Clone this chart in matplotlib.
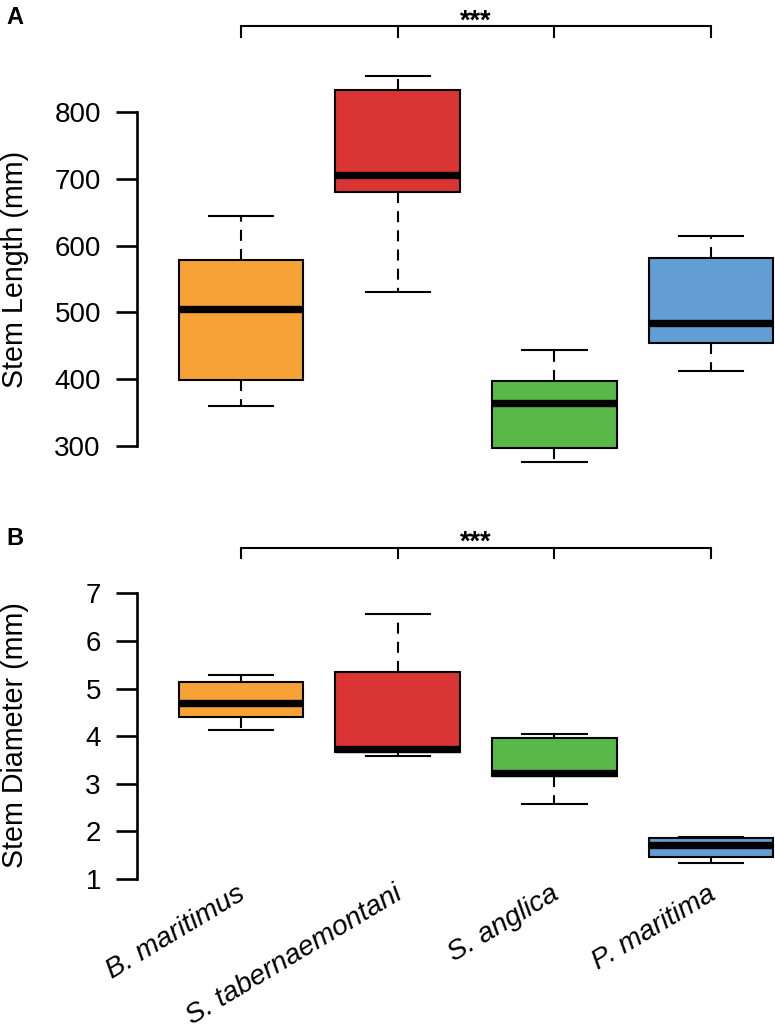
import numpy as np
import matplotlib
matplotlib.use('Agg')
import matplotlib.pyplot as plt
from matplotlib.transforms import blended_transform_factory

# ---------------- data ----------------
species = ["B. maritimus", "S. tabernaemontani", "S. anglica", "P. maritima"]
colors = ["#F7A236", "#DA3435", "#58B948", "#629ED4"]

length_low = [360, 531, 276, 412]
length_q1 = [398, 681, 296, 454]
length_med = [505, 706, 364, 484]
length_q3 = [578, 834, 397, 581]
length_high = [645, 854, 443, 615]
length_ticks = [300, 400, 500, 600, 700, 800]

diam_low = [4.13, 3.58, 2.57, 1.33]
diam_q1 = [4.40, 3.66, 3.16, 1.47]
diam_med = [4.69, 3.73, 3.23, 1.72]
diam_q3 = [5.13, 5.34, 3.97, 1.87]
diam_high = [5.29, 6.57, 4.04, 1.89]
diam_ticks = [1, 2, 3, 4, 5, 6, 7]

signif = "***"

# ---------------- layout ----------------
FONT = ["Liberation Sans", "DejaVu Sans"]
W, H = 775, 1027
fig = plt.figure(figsize=(W / 100, H / 100), dpi=100)


def fy(px):
    return 1 - px / H


def make_axes(top_px, bottom_px):
    ax = fig.add_axes([137 / W, fy(bottom_px), (W - 137) / W,
                       (bottom_px - top_px) / H])
    ax.patch.set_alpha(0)
    return ax


def stats(low, q1, med, q3, high):
    return [dict(whislo=a, q1=b, med=c, q3=d, whishi=e, fliers=[])
            for a, b, c, d, e in zip(low, q1, med, q3, high)]


def draw_panel(ax, st, ticks, ylim, bracket_px, star_px):
    pos = np.arange(1, len(st) + 1)
    bp = ax.bxp(st, positions=pos, widths=0.795, capwidths=0.41,
                patch_artist=True, showfliers=False,
                boxprops=dict(edgecolor="black", linewidth=1.5),
                medianprops=dict(color="black", linewidth=5.3,
                                 solid_capstyle="butt"),
                whiskerprops=dict(color="black", linewidth=1.5,
                                  linestyle=(0, (5.3, 3.9))),
                capprops=dict(color="black", linewidth=1.5))
    for patch, c in zip(bp["boxes"], colors):
        patch.set_facecolor(c)
    ax.set_xlim(1 + (137 - 241) / 156.7, 1 + (W - 241) / 156.7)
    ax.set_ylim(*ylim)
    for s in ["top", "right", "bottom"]:
        ax.spines[s].set_visible(False)
    ax.spines["left"].set_bounds(ticks[0], ticks[-1])
    ax.spines["left"].set_linewidth(1.9)
    ax.set_xticks([])
    ax.set_yticks(ticks)
    ax.set_yticklabels([str(t) for t in ticks])
    ax.tick_params(axis="y", direction="out", length=15, width=1.9,
                   pad=11.0, labelsize=20)
    for lab in ax.get_yticklabels():
        lab.set_family(FONT)
    # significance bracket
    tr = blended_transform_factory(ax.transData, fig.transFigure)
    top, bot = bracket_px
    ax.plot([pos[0], pos[-1]], [fy(top), fy(top)], color="black", lw=1.5,
            transform=tr, clip_on=False, solid_capstyle="butt")
    for p in pos:
        ax.plot([p, p], [fy(top), fy(bot)], color="black", lw=1.5,
                transform=tr, clip_on=False)
    ax.text(pos.mean(), fy(star_px), signif, ha="center", va="baseline",
            fontsize=19.5, fontweight="bold", family=FONT, transform=tr,
            clip_on=False)
    return pos


# ---------------- panel A ----------------
axA = make_axes(0, 470)
sA = 500 / (445.7 - 112.3)
ylimA = (300 - (470 - 445.7) * sA, 800 + (112.3 - 0) * sA)
draw_panel(axA, stats(length_low, length_q1, length_med, length_q3,
                      length_high), length_ticks, ylimA, (26, 37), 29)

# ---------------- panel B ----------------
axB = make_axes(490, 900)
sB = 6 / (879.0 - 593.3)
ylimB = (1 - (900 - 879.0) * sB, 7 + (593.3 - 490) * sB)
posB = draw_panel(axB, stats(diam_low, diam_q1, diam_med, diam_q3,
                             diam_high), diam_ticks, ylimB, (547.5, 557.5),
                  550)

trB = blended_transform_factory(axB.transData, fig.transFigure)
for p, name in zip(posB, species):
    axB.text(p + 0.015, fy(892), name, ha="right", va="center",
             rotation=31, rotation_mode="anchor", fontsize=20.3,
             style="italic", family=FONT, transform=trB, clip_on=False)

# y labels
for txt, ypx in [("Stem Length (mm)", 269), ("Stem Diameter (mm)", 735.5)]:
    fig.text(15 / W, fy(ypx), txt, rotation=90, ha="center",
             va="center", fontsize=20.6, family=FONT)

# panel letters
for letter, ypx in [("A", 24), ("B", 545)]:
    fig.text(6 / W, fy(ypx), letter, ha="left", va="baseline", fontsize=17,
             fontweight="bold", family=FONT)

fig.savefig("out.png", dpi=100, facecolor="white")
